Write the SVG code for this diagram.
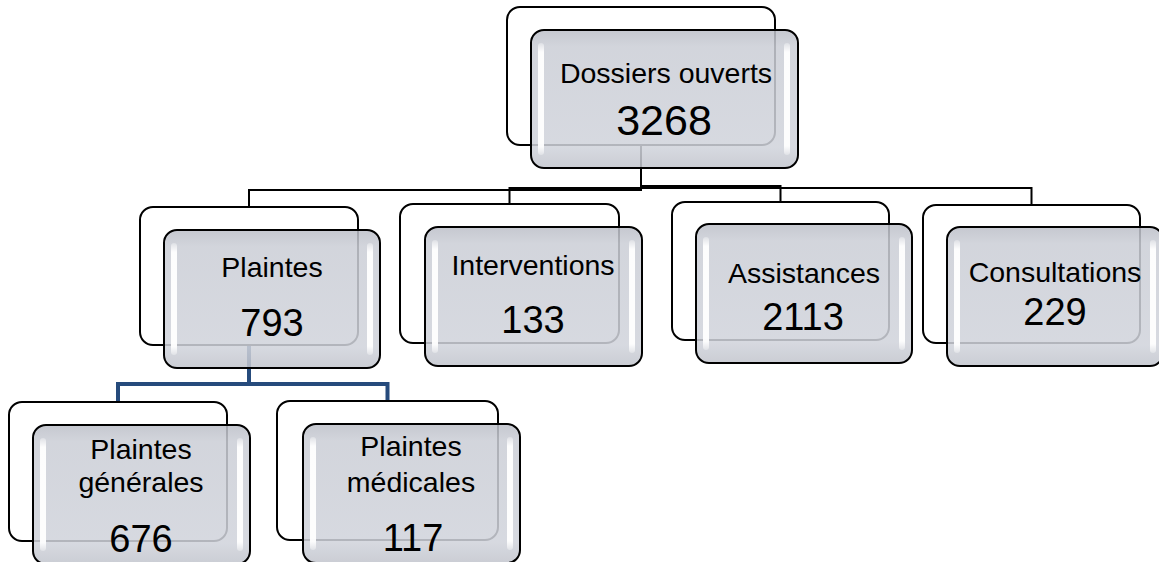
<svg xmlns="http://www.w3.org/2000/svg" width="1159" height="562" viewBox="0 0 1159 562">
<defs>
<linearGradient id="gf" x1="0" y1="0" x2="0" y2="1">
<stop offset="0" stop-color="#bcbfc8"/>
<stop offset="0.12" stop-color="#cbced6"/>
<stop offset="0.85" stop-color="#d0d3db"/>
<stop offset="1" stop-color="#c2c5cd"/>
</linearGradient>
<linearGradient id="gh" x1="0" y1="0" x2="0" y2="1">
<stop offset="0" stop-color="#ffffff" stop-opacity="0.3"/>
<stop offset="0.08" stop-color="#ffffff" stop-opacity="0.95"/>
<stop offset="0.92" stop-color="#ffffff" stop-opacity="0.95"/>
<stop offset="1" stop-color="#ffffff" stop-opacity="0.3"/>
</linearGradient>
<style>
.back{fill:#ffffff;stroke:#000000;stroke-width:2}
.front{fill:url(#gf);fill-opacity:0.86;stroke:#000000;stroke-width:2}
.hl{fill:url(#gh)}
.conn{fill:none;stroke:#000000;stroke-width:2}
.connb{fill:none;stroke:#264b7c;stroke-width:4}
text{font-family:"Liberation Sans",Arial,sans-serif;fill:#000000;text-anchor:middle}
.lbl{font-size:28.5px}
.num{font-size:38px}
.big{font-size:43px}
</style>
</defs>
<g id="connectors">
<path class="conn" d="M641,145 V190 H249 V207"/>
<path class="conn" d="M641,145 V188 H509.5 V204"/>
<path class="conn" d="M641,145 V186 H780.5 V202"/>
<path class="conn" d="M641,145 V188 H1031.5 V205"/>
<path class="connb" d="M249,345 V384 H118 V402"/>
<path class="connb" d="M249,345 V384 H387.5 V401"/>
</g>
<g id="node-dossiers">
<rect class="back" x="507" y="7" width="268" height="138" rx="13"/>
<rect class="front" x="531" y="30" width="267" height="138" rx="13"/>
<rect class="hl" x="538" y="43" width="6" height="112" rx="3"/>
<rect class="hl" x="784" y="43" width="6" height="112" rx="3"/>
<text class="lbl" x="666" y="83">Dossiers ouverts</text>
<text class="big" x="664" y="135">3268</text>
</g>
<g id="node-plaintes">
<rect class="back" x="140" y="207" width="218" height="138" rx="13"/>
<rect class="front" x="164" y="230" width="216" height="138" rx="13"/>
<rect class="hl" x="171" y="243" width="6" height="112" rx="3"/>
<rect class="hl" x="367" y="243" width="6" height="112" rx="3"/>
<text class="lbl" x="272" y="277">Plaintes</text>
<text class="num" x="272" y="336">793</text>
</g>
<g id="node-interventions">
<rect class="back" x="400" y="204" width="219" height="139" rx="13"/>
<rect class="front" x="425" y="227" width="217" height="139" rx="13"/>
<rect class="hl" x="432" y="240" width="6" height="113" rx="3"/>
<rect class="hl" x="629" y="240" width="6" height="113" rx="3"/>
<text class="lbl" x="533" y="275">Interventions</text>
<text class="num" x="533" y="333">133</text>
</g>
<g id="node-assistances">
<rect class="back" x="672" y="202" width="217" height="138" rx="13"/>
<rect class="front" x="696" y="224" width="216" height="139" rx="13"/>
<rect class="hl" x="703" y="237" width="6" height="113" rx="3"/>
<rect class="hl" x="899" y="237" width="6" height="113" rx="3"/>
<text class="lbl" x="804" y="283">Assistances</text>
<text class="num" x="803" y="330">2113</text>
</g>
<g id="node-consultations">
<rect class="back" x="923" y="205" width="217" height="138" rx="13"/>
<rect class="front" x="947" y="227" width="216" height="139" rx="13"/>
<rect class="hl" x="954" y="240" width="6" height="113" rx="3"/>
<rect class="hl" x="1150" y="240" width="6" height="113" rx="3"/>
<text class="lbl" x="1055" y="282">Consultations</text>
<text class="num" x="1055" y="325">229</text>
</g>
<g id="node-plaintes-generales">
<rect class="back" x="9" y="402" width="218" height="139" rx="13"/>
<rect class="front" x="33" y="425" width="217" height="139" rx="13"/>
<rect class="hl" x="40" y="438" width="6" height="113" rx="3"/>
<rect class="hl" x="237" y="438" width="6" height="113" rx="3"/>
<text class="lbl" x="141" y="459">Plaintes</text>
<text class="lbl" x="141" y="492">générales</text>
<text class="num" x="141" y="552">676</text>
</g>
<g id="node-plaintes-medicales">
<rect class="back" x="277" y="401" width="221" height="139" rx="13"/>
<rect class="front" x="303" y="424" width="217" height="139" rx="13"/>
<rect class="hl" x="310" y="437" width="6" height="113" rx="3"/>
<rect class="hl" x="507" y="437" width="6" height="113" rx="3"/>
<text class="lbl" x="411" y="456">Plaintes</text>
<text class="lbl" x="411" y="492">médicales</text>
<text class="num" x="413" y="551">117</text>
</g>
</svg>
